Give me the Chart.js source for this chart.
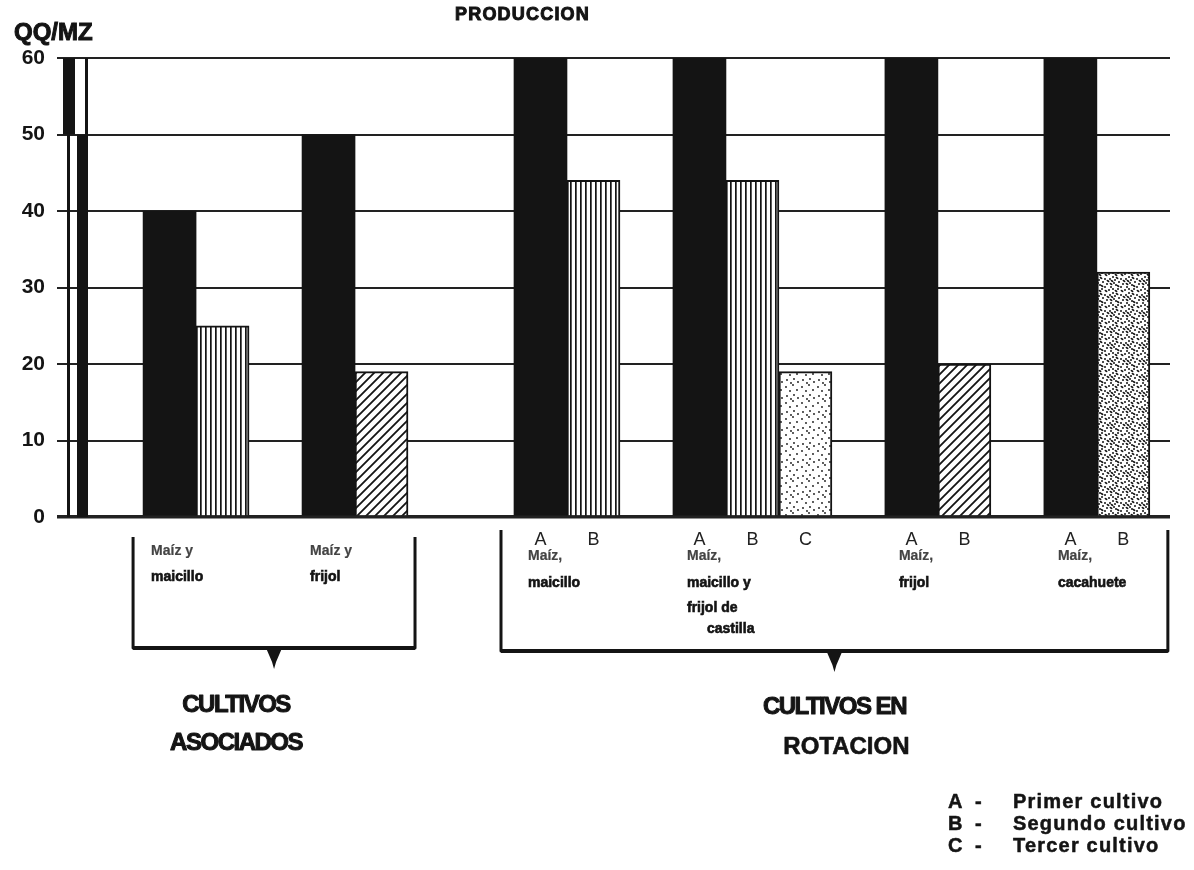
<!DOCTYPE html>
<html lang="es">
<head>
<meta charset="UTF-8">
<title>Producción</title>
<script src="https://cdn.jsdelivr.net/npm/chart.js@4.4.1/dist/chart.umd.min.js"></script>
<style>
  html, body { margin: 0; padding: 0; background: #fff; }
  #wrap { width: 1194px; height: 870px; }
</style>
</head>
<body>
<div id="wrap"><canvas id="chart" width="1194" height="870"></canvas></div>
<script>
// Producción en QQ por manzana
const groupLines = [
  ['Maíz y', 'maicillo'],
  ['Maíz y', 'frijol'],
  ['Maíz,', 'maicillo'],
  ['Maíz,', 'maicillo y', 'frijol de', 'castilla'],
  ['Maíz,', 'frijol'],
  ['Maíz,', 'cacahuete']
];
const system = ['asociados', 'asociados', 'rotacion', 'rotacion', 'rotacion', 'rotacion'];
const primer = [40, 50, 60, 60, 60, 60];            // A - maíz
const segundo = [25, 19, 44, 44, 20, 32];           // B
const tercer = [null, null, null, 19, null, null];  // C
const segundoCrop = ['maicillo', 'frijol', 'maicillo', 'maicillo', 'frijol', 'cacahuete'];
const tercerCrop = [null, null, null, 'castilla', null, null];
const yTicks = [0, 10, 20, 30, 40, 50, 60];
const systemTitles = { asociados: ['CULTIVOS', 'ASOCIADOS'], rotacion: ['CULTIVOS EN', 'ROTACION'] };
const legendItems = [['A', 'Primer cultivo'], ['B', 'Segundo cultivo'], ['C', 'Tercer cultivo']];

// slot of the first bar of each group (one empty slot between groups, two between systems)
const slotA = [];
let s = 0;
primer.forEach((v, i) => {
  if (i > 0) {
    const size = tercer[i - 1] != null ? 3 : 2;
    s += size + (system[i] !== system[i - 1] ? 2 : 1);
  }
  slotA.push(s);
});

const INK = '#141414';

function makePattern(kind) {
  const c = document.createElement('canvas');
  const g = c.getContext('2d');
  if (kind === 'vertical') {
    c.width = 5; c.height = 8;
    g.fillStyle = '#fff'; g.fillRect(0, 0, 5, 8);
    g.fillStyle = INK; g.fillRect(0, 0, 1.7, 8);
  } else if (kind === 'diagonal') {
    c.width = 9; c.height = 9;
    g.fillStyle = '#fff'; g.fillRect(0, 0, 9, 9);
    g.strokeStyle = INK; g.lineWidth = 1.8;
    g.beginPath();
    g.moveTo(-1, 10); g.lineTo(10, -1);
    g.moveTo(-2, 2); g.lineTo(2, -2);
    g.moveTo(7, 11); g.lineTo(11, 7);
    g.stroke();
  } else {
    const dense = kind === 'dense';
    c.width = 16; c.height = 16;
    g.fillStyle = '#fff'; g.fillRect(0, 0, 16, 16);
    g.fillStyle = INK;
    const light = [[2, 3], [9, 1], [6, 7], [13, 6], [3, 12], [10, 11], [14, 14], [7, 15]];
    const extra = [[5, 2], [12, 3], [1, 7], [9, 5], [4, 9], [11, 8], [15, 10], [7, 12], [1, 15], [12, 13], [8, 9], [14, 1]];
    const pts = dense ? light.concat(extra) : light;
    pts.forEach(([x, y], k) => {
      g.beginPath();
      if (dense && k % 3 === 0) g.ellipse(x, y, 1.6, 0.9, 0.6, 0, Math.PI * 2);
      else g.arc(x, y, dense ? 1.0 : 0.9, 0, Math.PI * 2);
      g.fill();
    });
  }
  return g.createPattern(c, 'repeat');
}

const cropFill = {
  maicillo: makePattern('vertical'),
  frijol: makePattern('diagonal'),
  castilla: makePattern('light'),
  cacahuete: makePattern('dense')
};

function heavyText(ctx, text, x, y, size, align, spacing, stroke) {
  ctx.font = 'bold ' + size + 'px "Liberation Sans", Arial, sans-serif';
  ctx.textAlign = align;
  ctx.letterSpacing = (spacing || 0) + 'px';
  ctx.fillText(text, x, y);
  if (stroke) {
    ctx.lineWidth = stroke;
    ctx.strokeText(text, x, y);
  }
  ctx.letterSpacing = '0px';
}

const decor = {
  id: 'decor',
  afterDraw(chart) {
    const { ctx, chartArea: a, scales: { y } } = chart;
    const y60 = y.getPixelForValue(60), y50 = y.getPixelForValue(50), y0 = y.getPixelForValue(0);
    const A = chart.getDatasetMeta(0).data;
    const B = chart.getDatasetMeta(1).data;
    const C = chart.getDatasetMeta(2).data;
    ctx.save();
    ctx.fillStyle = INK;
    ctx.strokeStyle = INK;

    // double vertical axis line
    ctx.fillRect(a.left + 1, y60, 12, y50 - y60);
    ctx.fillRect(a.left + 23, y60, 3, y50 - y60);
    ctx.fillRect(a.left + 5, y50, 3, y0 - y50);
    ctx.fillRect(a.left + 15, y50, 11, y0 - y50);

    // titles
    heavyText(ctx, 'QQ/MZ', 14, 40, 24, 'left', 0, 1);
    heavyText(ctx, 'PRODUCCION', 455, 20, 18, 'left', 1.2, 1);

    // A B C under rotation bars
    ctx.font = '18px "Liberation Sans", Arial, sans-serif';
    ctx.textAlign = 'center';
    ctx.fillStyle = '#222';
    system.forEach((sys, i) => {
      if (sys !== 'rotacion') return;
      ctx.fillText('A', A[i].x, y0 + 28);
      ctx.fillText('B', B[i].x, y0 + 28);
      if (tercer[i] != null) ctx.fillText('C', C[i].x, y0 + 28);
    });

    // group labels
    ctx.fillStyle = INK;
    groupLines.forEach((lines, i) => {
      const left = A[i].x - A[i].width / 2 + (system[i] === 'rotacion' ? 14 : 8);
      const base = system[i] === 'rotacion' ? [43, 70, 95, 116] : [38, 64];
      lines.forEach((t, k) => {
        ctx.fillStyle = k === 0 ? '#444' : INK;
        ctx.strokeStyle = ctx.fillStyle;
        heavyText(ctx, t, left + (k === 3 ? 20 : 0), y0 + base[k], 14, 'left', 0, k === 0 ? 0.2 : 0.6);
      });
    });
    ctx.strokeStyle = INK;

    // brackets
    const last = (sys) => system.lastIndexOf(sys);
    const first = (sys) => system.indexOf(sys);
    const brackets = [
      { sys: 'asociados', x1: A[first('asociados')].x - A[0].width / 2 - 10,
        x2: B[last('asociados')].x + B[0].width / 2 + 7, top: y0 + 20, bot: y0 + 131, shift: -38 },
      { sys: 'rotacion', x1: A[first('rotacion')].x - A[0].width / 2 - 13,
        x2: B[last('rotacion')].x + B[0].width / 2 + 18, top: y0 + 13, bot: y0 + 134, shift: 0 }
    ];
    ctx.fillStyle = INK;
    brackets.forEach(b => {
      ctx.lineWidth = 3;
      ctx.lineJoin = 'round';
      ctx.beginPath();
      ctx.moveTo(b.x1, b.top);
      ctx.lineTo(b.x1, b.bot);
      ctx.lineTo(b.x2, b.bot);
      ctx.lineTo(b.x2, b.top);
      ctx.stroke();
      ctx.lineWidth = 4;
      ctx.beginPath();
      ctx.moveTo(b.x1, b.bot);
      ctx.lineTo(b.x2, b.bot);
      ctx.stroke();
      const mid = (b.x1 + b.x2) / 2;
      ctx.beginPath();
      ctx.moveTo(mid - 8, b.bot);
      ctx.lineTo(mid + 8, b.bot);
      ctx.lineTo(mid + 2, b.bot + 14);
      ctx.lineTo(mid, b.bot + 21);
      ctx.lineTo(mid - 2, b.bot + 14);
      ctx.closePath();
      ctx.fill();
      const [t1, t2] = systemTitles[b.sys];
      const c = mid + b.shift;
      if (b.sys === 'asociados') {
        heavyText(ctx, t1, c, y0 + 195, 24, 'center', -1.5, 1);
        heavyText(ctx, t2, c, y0 + 233, 24, 'center', -1.5, 1);
      } else {
        heavyText(ctx, t1, c, y0 + 197, 24, 'center', -1.5, 1);
        heavyText(ctx, t2, c + 12, y0 + 237, 24, 'center', 0, 0.6);
      }
    });

    // legend A/B/C
    legendItems.forEach(([k, t], i) => {
      const yy = 808 + i * 22;
      heavyText(ctx, k, 948, yy, 20, 'left', 0, 0.5);
      heavyText(ctx, '-', 975, yy, 20, 'left', 0, 0.5);
      heavyText(ctx, t, 1013, yy, 20, 'left', 1.2, 0.5);
    });
    ctx.restore();
  }
};

new Chart(document.getElementById('chart'), {
  type: 'bar',
  data: {
    datasets: [
      {
        label: 'A - Primer cultivo',
        data: primer.map((v, i) => ({ x: slotA[i], y: v })),
        backgroundColor: INK,
        borderWidth: 0,
        grouped: false
      },
      {
        label: 'B - Segundo cultivo',
        data: segundo.map((v, i) => ({ x: slotA[i] + 1, y: v })),
        backgroundColor: c => cropFill[segundoCrop[c.dataIndex]],
        borderColor: INK,
        borderWidth: 2,
        borderSkipped: 'bottom',
        grouped: false
      },
      {
        label: 'C - Tercer cultivo',
        data: tercer.map((v, i) => ({ x: slotA[i] + 2, y: v })),
        backgroundColor: c => cropFill[tercerCrop[c.dataIndex]] || '#fff',
        borderColor: INK,
        borderWidth: 2,
        borderSkipped: 'bottom',
        grouped: false
      }
    ]
  },
  options: {
    responsive: false,
    animation: false,
    barPercentage: 1,
    categoryPercentage: 1,
    layout: { padding: { left: 0, top: 58, right: 24, bottom: 353 } },
    plugins: { legend: { display: false }, tooltip: { enabled: false } },
    scales: {
      x: {
        type: 'linear',
        min: -2.03,
        max: 18.88,
        offset: false,
        display: false,
        ticks: { stepSize: 1, includeBounds: false }
      },
      y: {
        min: 0,
        max: 60,
        afterFit: sc => { sc.width = 62; },
        afterBuildTicks: sc => { sc.ticks = yTicks.map(v => ({ value: v })); },
        border: { display: false },
        grid: {
          color: '#222',
          lineWidth: c => (c.tick && c.tick.value === 0 ? 3.5 : 2),
          tickLength: 5
        },
        ticks: {
          padding: 12,
          color: INK,
          font: { family: '"Liberation Sans", Arial, sans-serif', weight: 'bold', size: 21 }
        }
      }
    }
  },
  plugins: [decor]
});
</script>
</body>
</html>
